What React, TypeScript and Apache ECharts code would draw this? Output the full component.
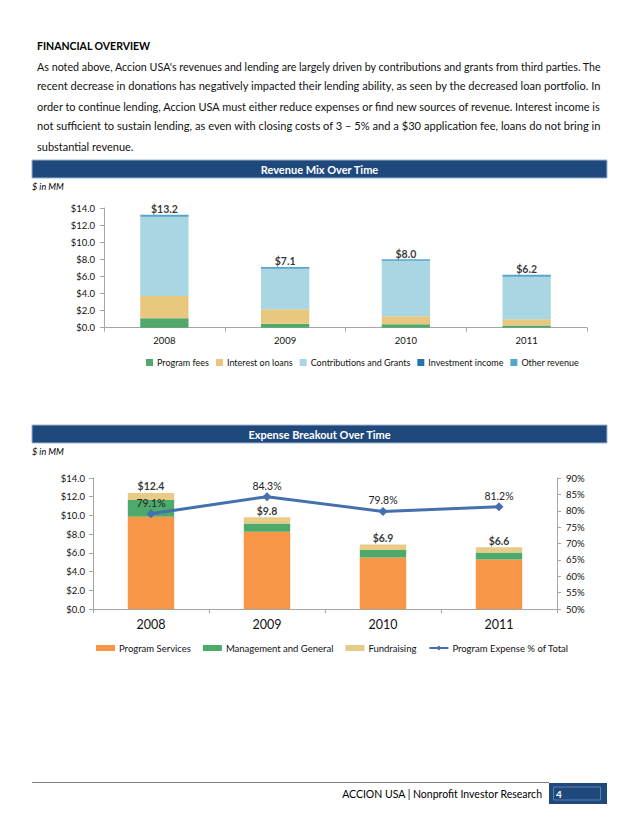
import React, { useEffect, useRef } from "react";
import * as echarts from "echarts";

const years = ["2008", "2009", "2010", "2011"];

// Revenue mix ($ MM)
const programFees = [1.1, 0.45, 0.4, 0.25];
const interestOnLoans = [2.6, 1.7, 0.95, 0.75];
const contributionsGrants = [9.3, 4.75, 6.45, 5.0];
const investmentIncome = [0.05, 0.05, 0.05, 0.05];
const otherRevenue = [0.15, 0.15, 0.15, 0.15];
const revenueTotals = [13.2, 7.1, 8.0, 6.2];
const revenueTicks = [0, 14, 2];

// Expense breakout ($ MM)
const programServices = [9.85, 8.25, 5.5, 5.3];
const mgmtGeneral = [1.8, 0.9, 0.8, 0.75];
const fundraising = [0.75, 0.65, 0.6, 0.55];
const expenseTotals = [12.4, 9.8, 6.9, 6.6];
const programPct = [79.1, 84.3, 79.8, 81.2];
const pctTicks = [50, 90, 5];

const paragraphLines = [
  "As noted above, Accion USA's revenues and lending are largely driven by contributions and grants from third parties. The",
  "recent decrease in donations has negatively impacted their lending ability, as seen by the decreased loan portfolio. In",
  "order to continue lending, Accion USA must either reduce expenses or find new sources of revenue. Interest income is",
  "not sufficient to sustain lending, as even with closing costs of 3 \u2013 5% and a $30 application fee, loans do not bring in",
  "substantial revenue.",
];

const FONT = "Lato, 'Noto Sans', sans-serif";
const NAVY = "#1F497D";

export default function App() {
  const ref = useRef<HTMLDivElement>(null);

  useEffect(() => {
    if (!ref.current) return;
    const chart = echarts.init(ref.current, null, { renderer: "svg" });

    const canvas = document.createElement("canvas");
    const ctx = canvas.getContext("2d")!;
    const pFont = 11;
    ctx.font = `${pFont}px Lato`;
    const fullWidth = 565;

    const paraGraphics: any[] = paragraphLines.map((line, i) => {
      const w = ctx.measureText(line).width;
      const justify = i < paragraphLines.length - 1;
      return {
        type: "text",
        x: 37,
        y: 66 + i * 20,
        scaleX: justify ? fullWidth / w : 1,
        style: {
          text: line,
          fontFamily: FONT,
          fontSize: pFont,
          fill: "#111",
          textAlign: "left",
          textVerticalAlign: "middle",
        },
      };
    });

    const titleBar = (y: number, title: string) => [
      {
        type: "rect",
        shape: { x: 32, y, width: 575, height: 18 },
        style: { fill: NAVY, stroke: "#9DB3D3", lineWidth: 1 },
      },
      {
        type: "text",
        x: 319.5,
        y: y + 9,
        style: {
          text: title,
          fill: "#fff",
          fontFamily: FONT,
          fontWeight: "bold",
          fontSize: 11,
          textAlign: "center",
          textVerticalAlign: "middle",
        },
      },
      {
        type: "text",
        x: 32,
        y: y + 26,
        style: {
          text: "$ in MM",
          fill: "#000",
          fontFamily: FONT,
          fontStyle: "italic",
          fontSize: 9,
          textAlign: "left",
          textVerticalAlign: "middle",
        },
      },
    ];

    const axisLine = { show: true, lineStyle: { color: "#A6A6A6", width: 1 } };
    const axisTick = { show: true, length: 4, lineStyle: { color: "#A6A6A6" } };

    const topBar = (name: string, data: number[], color: string) => ({
      name,
      type: "bar",
      stack: "rev",
      xAxisIndex: 0,
      yAxisIndex: 0,
      barCategoryGap: "60%",
      data,
      itemStyle: { color },
    });
    const botBar = (name: string, data: number[], color: string) => ({
      name,
      type: "bar",
      stack: "exp",
      xAxisIndex: 1,
      yAxisIndex: 1,
      barCategoryGap: "60%",
      data,
      itemStyle: { color },
    });

    const option: any = {
      animation: false,
      backgroundColor: "#fff",
      textStyle: { fontFamily: FONT },
      grid: [
        { left: 104, top: 208, width: 483, height: 119.7 },
        { left: 93, top: 478, width: 464, height: 131 },
      ],
      xAxis: [
        {
          type: "category",
          gridIndex: 0,
          data: years,
          axisLine,
          axisTick,
          axisLabel: { color: "#111", fontSize: 9.5, margin: 8 },
        },
        {
          type: "category",
          gridIndex: 1,
          data: years,
          axisLine,
          axisTick,
          axisLabel: { color: "#111", fontSize: 12.5, margin: 9 },
        },
      ],
      yAxis: [
        {
          type: "value",
          gridIndex: 0,
          min: revenueTicks[0],
          max: revenueTicks[1],
          interval: revenueTicks[2],
          axisLine,
          axisTick,
          splitLine: { show: false },
          axisLabel: {
            color: "#111",
            fontSize: 9.5,
            margin: 9,
            formatter: (v: number) => "$" + v.toFixed(1),
          },
        },
        {
          type: "value",
          gridIndex: 1,
          min: revenueTicks[0],
          max: revenueTicks[1],
          interval: revenueTicks[2],
          axisLine,
          axisTick,
          splitLine: { show: false },
          axisLabel: {
            color: "#111",
            fontSize: 9.5,
            margin: 8,
            formatter: (v: number) => "$" + v.toFixed(1),
          },
        },
        {
          type: "value",
          gridIndex: 1,
          position: "right",
          min: pctTicks[0],
          max: pctTicks[1],
          interval: pctTicks[2],
          axisLine,
          axisTick,
          splitLine: { show: false },
          axisLabel: {
            color: "#111",
            fontSize: 9.5,
            margin: 9,
            formatter: (v: number) => v + "%",
          },
        },
      ],
      legend: [
        {
          left: 141,
          top: 353,
          itemWidth: 7,
          itemHeight: 7,
          itemGap: 7,
          textStyle: { fontSize: 9, color: "#111", padding: [0, 0, 0, -1] },
          data: [
            { name: "Program fees", icon: "rect" },
            { name: "Interest on loans", icon: "rect" },
            { name: "Contributions and Grants", icon: "rect" },
            { name: "Investment income", icon: "rect" },
            { name: "Other revenue", icon: "rect" },
          ],
        },
        {
          left: 91,
          top: 638,
          itemWidth: 19,
          itemHeight: 6,
          itemGap: 12,
          textStyle: { fontSize: 9.5, color: "#111", padding: [0, 0, 0, -1] },
          data: [
            { name: "Program Services", icon: "rect" },
            { name: "Management and General", icon: "rect" },
            { name: "Fundraising", icon: "rect" },
            { name: "Program Expense % of Total" },
          ],
        },
      ],
      graphic: [
        {
          type: "text",
          x: 37,
          y: 46,
          style: {
            text: "FINANCIAL OVERVIEW",
            fontFamily: FONT,
            fontWeight: "bold",
            fontSize: 10.5,
            fill: "#000",
            textVerticalAlign: "middle",
          },
        },
        ...paraGraphics,
        ...titleBar(160, "Revenue Mix Over Time"),
        ...titleBar(425, "Expense Breakout Over Time"),
        {
          type: "line",
          shape: { x1: 32, y1: 782.5, x2: 549, y2: 782.5 },
          style: { stroke: "#808080", lineWidth: 1 },
        },
        {
          type: "text",
          x: 542,
          y: 794,
          style: {
            text: "ACCION USA | Nonprofit Investor Research",
            fontFamily: FONT,
            fontSize: 10.5,
            fill: "#000",
            textAlign: "right",
            textVerticalAlign: "middle",
          },
        },
        {
          type: "rect",
          shape: { x: 549, y: 783, width: 58, height: 21 },
          style: { fill: NAVY },
        },
        {
          type: "rect",
          shape: { x: 553.5, y: 787, width: 47, height: 13 },
          style: { fill: "none", stroke: "#5C7FB0", lineWidth: 1 },
        },
        {
          type: "text",
          x: 556,
          y: 794,
          style: {
            text: "4",
            fontFamily: FONT,
            fontSize: 10,
            fontWeight: "bold",
            fill: "#fff",
            textVerticalAlign: "middle",
          },
        },
      ],
      series: [
        topBar("Program fees", programFees, "#50A86B"),
        topBar("Interest on loans", interestOnLoans, "#E8C87F"),
        topBar("Contributions and Grants", contributionsGrants, "#A8D6E2"),
        topBar("Investment income", investmentIncome, "#2472B6"),
        topBar("Other revenue", otherRevenue, "#52A7CB"),
        {
          type: "scatter",
          xAxisIndex: 0,
          yAxisIndex: 0,
          symbolSize: 0,
          data: revenueTotals,
          z: 10,
          label: {
            show: true,
            position: "top",
            distance: 0,
            color: "#000",
            fontWeight: "bold",
            fontSize: 10.5,
            formatter: (p: any) => "$" + p.value.toFixed(1),
          },
        },
        botBar("Program Services", programServices, "#F79646"),
        botBar("Management and General", mgmtGeneral, "#4EAA6A"),
        botBar("Fundraising", fundraising, "#E8CB86"),
        {
          type: "scatter",
          xAxisIndex: 1,
          yAxisIndex: 1,
          symbolSize: 0,
          data: expenseTotals,
          z: 10,
          label: {
            show: true,
            position: "top",
            distance: 1,
            color: "#000",
            fontWeight: "bold",
            fontSize: 10.5,
            formatter: (p: any) => "$" + p.value.toFixed(1),
          },
        },
        {
          name: "Program Expense % of Total",
          type: "line",
          xAxisIndex: 1,
          yAxisIndex: 2,
          data: programPct,
          symbol: "diamond",
          symbolSize: 9,
          z: 12,
          lineStyle: { color: "#4470AD", width: 3 },
          itemStyle: { color: "#4470AD" },
          label: {
            show: true,
            position: "top",
            distance: 1,
            color: "#222",
            fontSize: 10.5,
            formatter: (p: any) => p.value.toFixed(1) + "%",
          },
        },
      ],
    };

    chart.setOption(option);
    return () => chart.dispose();
  }, []);

  return (
    <div
      ref={ref}
      style={{ position: "absolute", left: 0, top: 0, width: 638, height: 826 }}
    />
  );
}
